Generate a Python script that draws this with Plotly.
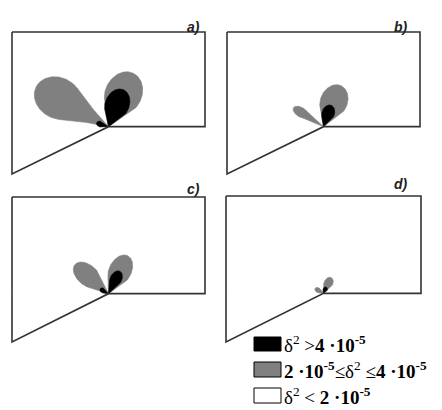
import numpy as np
import plotly.graph_objects as go

FIG_W, FIG_H = 442, 410

# Computational domain (model units): rectangle with a slanted lower-left edge,
# the two parts meeting at the corner point (0, 0)
outline_x = [-1.0, 1.0, 1.0, 0.0, -1.0, -1.0]
outline_y = [1.0, 1.0, 0.0, 0.0, -0.5, 1.0]

panel_names = ["a)", "b)", "c)", "d)"]

# Error lobes radiating from the corner: direction (deg), reach and width (model units),
# elongation of the rounded head, and level
a_angle = [150, 66, 69, 162]
a_length = [0.86, 0.62, 0.42, 0.13]
a_width = [0.43, 0.38, 0.25, 0.06]
a_head = [1.2, 1.25, 1.35, 1.3]
a_level = ["mid", "mid", "high", "high"]

b_angle = [147, 68, 71]
b_length = [0.37, 0.47, 0.24]
b_width = [0.10, 0.28, 0.13]
b_head = [1.8, 1.3, 1.4]
b_level = ["mid", "mid", "high"]

c_angle = [139, 63, 63, 150]
c_length = [0.46, 0.44, 0.26, 0.10]
c_width = [0.21, 0.23, 0.12, 0.05]
c_head = [1.6, 1.5, 1.5, 1.3]
c_level = ["mid", "mid", "high", "high"]

d_angle = [64, 150, 66]
d_length = [0.18, 0.10, 0.07]
d_width = [0.09, 0.05, 0.045]
d_head = [1.4, 1.3, 1.2]
d_level = ["mid", "mid", "high"]

lobes = {
    "a)": (a_angle, a_length, a_width, a_head, a_level),
    "b)": (b_angle, b_length, b_width, b_head, b_level),
    "c)": (c_angle, c_length, c_width, c_head, c_level),
    "d)": (d_angle, d_length, d_width, d_head, d_level),
}

level_color = {"high": "#000000", "mid": "#808080"}

# Legend entries
legend_colors = ["#000000", "#808080", "#ffffff"]
legend_texts = [
    "δ<sup>2</sup> &gt;<b>4 ·10<sup>-5</sup></b>",
    "<b>2 ·10<sup>-5</sup></b>≤δ<sup>2</sup> ≤<b>4 ·10<sup>-5</sup></b>",
    "δ<sup>2</sup> &lt; <b>2 ·10<sup>-5</sup></b>",
]

# Panel placement on the page in pixels: left, top, right, bottom (lowest corner of the outline)
panel_box = {
    "a)": (12, 32, 205, 174),
    "b)": (227, 32, 420, 174),
    "c)": (12, 197, 205, 342),
    "d)": (226, 196, 421, 342),
}
label_pos = {"a)": (193, 17), "b)": (410, 17), "c)": (193, 189), "d)": (410, 184)}


def lobe_outline(angle_deg, length, width, head, gamma_deg=60, open_frac=0.8, m=120):
    """Oval head at the far end, joined to the corner by a tapering neck."""
    b = width / 2
    a = head * b
    c = length - a
    g = np.deg2rad(gamma_deg)
    p2 = np.array([c - a * np.cos(g), b * np.sin(g)])  # where neck meets head
    tan_dir = np.array([a * np.sin(g), b * np.cos(g)])   # head tangent there
    d = open_frac * np.arctan2(p2[1], p2[0])             # neck opening half-angle
    ray = np.array([np.cos(d), np.sin(d)])
    try:
        w, s = np.linalg.solve(np.column_stack([ray, -tan_dir]), p2)
        p1 = w * ray if (w > 0 and s < 0) else 0.5 * p2
    except np.linalg.LinAlgError:
        p1 = 0.5 * p2
    t = np.linspace(0, 1, 30)[:, None]
    neck = 2 * (1 - t) * t * p1 + t ** 2 * p2
    phi = np.linspace(-(np.pi - g), np.pi - g, m)
    hu = c + a * np.cos(phi)
    hv = b * np.sin(phi)
    u = np.concatenate([neck[:, 0], hu, neck[::-1, 0]])
    v = np.concatenate([-neck[:, 1], hv, neck[::-1, 1]])
    r = np.deg2rad(angle_deg)
    return u * np.cos(r) - v * np.sin(r), u * np.sin(r) + v * np.cos(r)


fig = go.Figure()
pad = 0.03
xmin, xmax = min(outline_x), max(outline_x)
ymin, ymax = min(outline_y), max(outline_y)

for i, name in enumerate(panel_names):
    k = "" if i == 0 else str(i + 1)
    L, T, R, B = panel_box[name]
    sx = (R - L) / (xmax - xmin)
    sy = (B - T) / (ymax - ymin)
    fig.update_layout({
        f"xaxis{k}": dict(range=[xmin - pad, xmax + pad], visible=False, fixedrange=True,
                          domain=[(L - pad * sx) / FIG_W, (R + pad * sx) / FIG_W]),
        f"yaxis{k}": dict(range=[ymin - pad, ymax + pad], visible=False, fixedrange=True,
                          domain=[1 - (B + pad * sy) / FIG_H, 1 - (T - pad * sy) / FIG_H]),
    })
    ang, ln, wd, hd, lv = lobes[name]
    order = sorted(range(len(ang)), key=lambda j: 0 if lv[j] == "mid" else 1)
    for j in order:
        x, y = lobe_outline(ang[j], ln[j], wd[j], hd[j])
        fig.add_trace(go.Scatter(x=x, y=y, mode="lines", fill="toself",
                                 fillcolor=level_color[lv[j]],
                                 line=dict(width=0.6, color=level_color[lv[j]]),
                                 hoverinfo="skip", showlegend=False,
                                 xaxis=f"x{k}", yaxis=f"y{k}"))
    fig.add_trace(go.Scatter(x=outline_x, y=outline_y, mode="lines",
                             line=dict(color="#333333", width=1.6),
                             hoverinfo="skip", showlegend=False,
                             xaxis=f"x{k}", yaxis=f"y{k}"))
    lx, ly = label_pos[name]
    fig.add_annotation(x=lx / FIG_W, y=1 - ly / FIG_H, xref="paper", yref="paper",
                       text=f"<b><i>{name}</i></b>", showarrow=False,
                       font=dict(family="Liberation Sans", size=14, color="#222222"))

# Legend swatches and labels
swatch_rows = [(337, 351), (362, 377), (388, 403)]
for (y0, y1), col, txt in zip(swatch_rows, legend_colors, legend_texts):
    fig.add_shape(type="rect", xref="paper", yref="paper",
                  x0=254 / FIG_W, x1=281 / FIG_W, y0=1 - y1 / FIG_H, y1=1 - y0 / FIG_H,
                  fillcolor=col, line=dict(color="#000000", width=1))
    fig.add_annotation(x=282 / FIG_W, y=1 - (y0 + y1) / 2 / FIG_H, xref="paper", yref="paper",
                       xanchor="left", yanchor="middle", text=txt, showarrow=False,
                       font=dict(family="Liberation Serif", size=19, color="#000000"))

fig.update_layout(width=FIG_W, height=FIG_H, margin=dict(l=0, r=0, t=0, b=0),
                  paper_bgcolor="white", plot_bgcolor="rgba(0,0,0,0)")

fig.write_html("out.html")
